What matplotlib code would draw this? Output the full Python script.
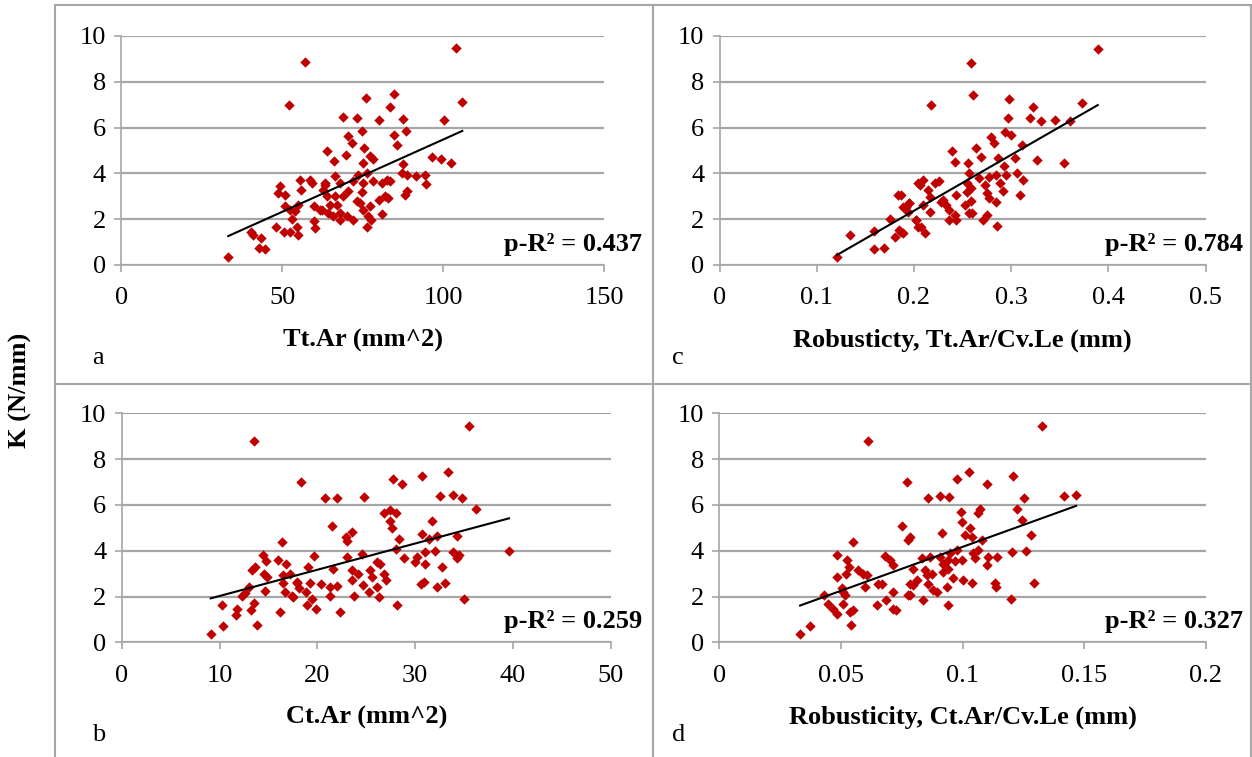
import numpy as np
import matplotlib.pyplot as plt
from matplotlib.lines import Line2D

plt.rcParams['font.family'] = ['Liberation Serif', 'DejaVu Serif']

# panel a: Tt.Ar vs K
a_x = [57.0, 52.1, 63.8, 33.2, 40.2, 41.0, 43.4, 42.7, 44.7, 47.9, 49.3, 48.6, 50.8, 50.5,
       52.4, 54.7, 55.0, 53.1, 50.8, 52.4, 55.5, 58.6, 59.2, 55.7, 55.0, 54.0, 59.7, 61.7,
       59.7, 60.2, 63.2, 63.8, 64.3,
       103.8, 105.9, 100.3, 84.7, 83.6, 75.9, 68.8, 73.1, 79.9, 87.6, 88.5, 74.9, 70.5, 71.5,
       84.7, 85.5, 69.7, 75.3, 66.2, 75.2, 77.3, 78.3, 96.6, 99.2, 102.4, 87.6, 87.1, 88.6,
       91.5, 94.4, 94.7, 88.8, 88.1, 66.4, 67.9, 63.2, 62.7, 73.6, 76.2, 72.0, 75.2, 78.2,
       80.9, 82.4, 83.4, 70.5, 74.7, 79.9, 81.9, 82.9, 66.4, 68.9, 73.1, 74.2, 64.8, 66.9,
       62.2, 67.9, 77.2, 65.9, 67.9, 70.0, 72.0, 76.7, 77.7, 80.9, 76.2, 75.2]
a_k = [8.85, 7.00, 4.97, 0.34, 1.46, 1.32, 1.17, 0.73, 0.70, 1.65, 3.43, 3.14, 3.07, 1.46,
       1.46, 1.65, 1.32, 2.02, 2.56, 2.41, 3.73, 3.73, 3.58, 3.26, 2.63, 2.34, 2.56, 2.41,
       1.90, 1.61, 3.58, 3.00, 2.27,
       9.46, 7.12, 6.33, 7.46, 6.90, 7.28, 6.45, 6.42, 6.35, 6.39, 5.83, 5.83, 5.63, 5.34,
       5.66, 5.26, 4.80, 5.12, 4.52, 4.46, 4.75, 4.61, 4.71, 4.61, 4.46, 4.39, 4.02, 3.95,
       3.87, 3.95, 3.55, 3.22, 3.04, 3.87, 3.58, 3.51, 3.29, 3.95, 4.02, 3.65, 3.58, 3.65,
       3.58, 3.73, 3.65, 3.22, 3.19, 2.85, 3.00, 2.92, 3.00, 3.00, 2.78, 2.71, 2.63, 2.63,
       2.41, 2.27, 2.56, 2.12, 1.97, 2.12, 1.97, 2.12, 1.97, 2.22, 1.68, 2.41]

# panel c: robusticity Tt.Ar/Cv.Le vs K
c_x = [0.121, 0.134, 0.159, 0.159, 0.169, 0.175, 0.184, 0.180, 0.185, 0.189, 0.192, 0.195,
       0.194, 0.204, 0.202, 0.204,
       0.389, 0.259, 0.261, 0.218, 0.298, 0.322, 0.373, 0.297, 0.319, 0.331, 0.345, 0.360,
       0.294, 0.300, 0.279, 0.282, 0.311, 0.264, 0.239, 0.269, 0.242, 0.256, 0.286, 0.304,
       0.327, 0.354, 0.293, 0.257, 0.267, 0.277, 0.284, 0.295, 0.306, 0.312, 0.288, 0.273,
       0.255, 0.226, 0.222, 0.209, 0.206, 0.214, 0.216, 0.255, 0.259, 0.243, 0.275, 0.292,
       0.309, 0.277, 0.284, 0.259, 0.252, 0.228, 0.233, 0.195, 0.189, 0.187, 0.209, 0.216,
       0.236, 0.242, 0.236, 0.243, 0.257, 0.260, 0.275, 0.271, 0.202, 0.207, 0.211, 0.187,
       0.285, 0.230]
c_k = [0.34, 1.31, 1.48, 0.70, 0.73, 2.00, 3.06, 1.24, 1.53, 1.38, 2.55, 2.69,
       2.33, 3.57, 1.97, 1.67,
       9.42, 8.81, 7.42, 6.97, 7.25, 6.88, 7.09, 6.43, 6.41, 6.30, 6.33, 6.30,
       5.81, 5.66, 5.60, 5.31, 5.24, 5.09, 4.98, 4.73, 4.51, 4.44, 4.69, 4.69,
       4.59, 4.47, 4.34, 4.00, 3.79, 3.86, 3.93, 3.93, 4.03, 3.71, 3.57, 3.49,
       3.57, 3.68, 3.57, 3.71, 3.49, 3.28, 2.98, 3.20, 3.35, 3.06, 3.13, 3.23,
       3.06, 2.91, 2.76, 2.81, 2.62, 2.76, 2.62, 2.69, 2.55, 3.06, 2.62, 2.33,
       2.40, 2.18, 1.97, 1.97, 2.26, 2.26, 2.18, 1.97, 1.97, 1.67, 1.41, 1.45,
       1.70, 2.84]

# panel b: Ct.Ar vs K
b_x = [13.5, 18.3, 16.4, 14.4, 14.8, 16.0, 16.8, 13.3, 13.6, 14.6, 14.9, 16.5, 17.2, 16.5,
       17.9, 18.1, 16.7, 17.4, 14.7, 13.0, 12.6, 12.3, 10.3, 11.8, 11.7, 13.5, 13.2, 13.8,
       10.4, 9.1, 16.2,
       35.5, 27.7, 28.7, 30.7, 33.4, 20.8, 22.0, 24.8, 32.5, 33.9, 34.8, 36.2, 26.8, 27.4,
       28.0, 27.4, 27.6, 21.5, 31.7, 22.9, 23.5, 23.0, 28.4, 30.7, 31.4, 32.2, 34.3, 28.0,
       19.7, 23.0, 24.6, 28.9, 30.2, 31.0, 32.0, 33.9, 34.5, 34.3, 39.6, 19.1, 21.6, 26.1,
       26.4, 23.5, 24.2, 25.4, 25.6, 26.8, 27.0, 30.0, 31.0, 32.8, 30.6, 30.9, 32.2, 33.1,
       35.0, 17.9, 19.3, 20.4, 21.3, 22.0, 23.5, 24.7, 25.3, 26.1, 26.3, 23.8, 21.3, 18.8,
       19.5, 17.5, 18.9, 19.9, 22.3, 28.1]
b_k = [8.80, 6.98, 4.36, 3.80, 3.55, 3.58, 3.41, 3.15, 3.29, 3.00, 2.83, 2.96, 2.97, 2.59,
       2.64, 2.35, 2.20, 2.01, 2.25, 2.42, 2.16, 2.01, 1.65, 1.47, 1.18, 1.72, 1.40, 0.77,
       0.70, 0.35, 1.33,
       9.44, 7.11, 6.90, 7.27, 7.45, 6.28, 6.32, 6.35, 6.39, 6.42, 6.31, 5.82, 5.63, 5.77,
       5.65, 5.29, 4.97, 5.09, 5.31, 4.58, 4.80, 4.43, 4.50, 4.75, 4.53, 4.65, 4.65, 4.07,
       3.78, 3.74, 3.84, 3.66, 3.74, 3.95, 3.99, 3.95, 3.80, 3.66, 3.98, 3.29, 3.22, 3.51,
       3.41, 3.15, 3.00, 3.15, 2.86, 3.00, 2.71, 3.50, 3.42, 3.28, 2.55, 2.62, 2.42, 2.57,
       1.87, 2.57, 2.59, 2.54, 2.42, 2.45, 2.71, 2.49, 2.20, 2.42, 1.99, 2.01, 2.01, 2.20,
       1.91, 1.99, 1.62, 1.44, 1.33, 1.65]

# panel d: robusticity Ct.Ar/Cv.Le vs K
d_x = [0.0612, 0.0770, 0.0752, 0.0777, 0.0548, 0.0482, 0.0526, 0.0533, 0.0520, 0.0485,
       0.0681, 0.0701, 0.0715, 0.0571, 0.0592, 0.0606, 0.0653, 0.0667, 0.0783, 0.0599,
       0.0503, 0.0510, 0.0516, 0.0431, 0.0448, 0.0468, 0.0482, 0.0507, 0.0537, 0.0551,
       0.0540, 0.0647, 0.0685, 0.0715, 0.0725, 0.0715, 0.0373, 0.0332, 0.0777,
       0.1327, 0.1027, 0.0975, 0.1101, 0.1208, 0.0859, 0.0907, 0.0945, 0.1253, 0.1416,
       0.1466, 0.1071, 0.1062, 0.0993, 0.1222, 0.0996, 0.1245, 0.0783, 0.0914, 0.1030,
       0.1009, 0.1037, 0.1078, 0.1279, 0.0832, 0.0866, 0.0907, 0.0948, 0.0975, 0.0941,
       0.0968, 0.0996, 0.1044, 0.1064, 0.1051, 0.1105, 0.1142, 0.1101, 0.1201, 0.1259,
       0.0797, 0.0845, 0.0873, 0.0852, 0.0920, 0.0941, 0.0811, 0.0797, 0.0859, 0.0961,
       0.1002, 0.1037, 0.1133, 0.1136, 0.1294, 0.0879, 0.0893, 0.0934, 0.0783, 0.0838,
       0.0941, 0.1197, 0.0920]
d_k = [8.80, 6.98, 5.09, 4.46, 4.36, 3.83, 3.61, 3.29, 3.00, 2.85,
       3.78, 3.61, 3.39, 3.17, 3.00, 2.93, 2.56, 2.54, 2.56, 2.42,
       2.35, 2.20, 2.05, 2.05, 1.69, 1.47, 1.22, 1.69, 1.33, 1.43,
       0.77, 1.62, 1.85, 2.20, 1.40, 1.47, 0.70, 0.35, 2.05,
       9.44, 7.45, 7.11, 6.90, 7.27, 6.31, 6.38, 6.35, 6.31, 6.39,
       6.45, 5.81, 5.63, 5.70, 5.81, 5.26, 5.33, 4.58, 4.79, 4.97,
       4.68, 4.61, 4.46, 4.68, 3.66, 3.73, 3.73, 3.88, 4.05, 3.61,
       3.53, 3.61, 3.88, 4.03, 3.66, 3.73, 3.73, 3.37, 3.95, 3.98,
       3.22, 3.15, 3.00, 2.93, 3.07, 3.22, 2.71, 2.49, 2.54, 2.79,
       2.71, 2.61, 2.59, 2.42, 2.59, 2.27, 2.20, 2.42, 2.05, 1.85,
       1.65, 1.87, 3.44]

panels = [
    # x, y, xticks, xlabel, r2 text, letter, axes box in pixels (left, right, top, bottom)
    (a_x, a_k, [0, 50, 100, 150], 'Tt.Ar (mm^2)', 'p-R\u00b2 = 0.437', 'a', (121.3, 604.3, 36, 265)),
    (c_x, c_k, [0, 0.1, 0.2, 0.3, 0.4, 0.5], 'Robusticty, Tt.Ar/Cv.Le (mm)', 'p-R\u00b2 = 0.784', 'c', (719.5, 1205.7, 36, 265)),
    (b_x, b_k, [0, 10, 20, 30, 40, 50], 'Ct.Ar (mm^2)', 'p-R\u00b2 = 0.259', 'b', (121.7, 610.7, 413.3, 642.3)),
    (d_x, d_k, [0, 0.05, 0.1, 0.15, 0.2], 'Robusticity, Ct.Ar/Cv.Le (mm)', 'p-R\u00b2 = 0.327', 'd', (719.3, 1206, 413.3, 642.3)),
]
tick_labels = {
    'a': ['0', '50', '100', '150'],
    'c': ['0', '0.1', '0.2', '0.3', '0.4', '0.5'],
    'b': ['0', '10', '20', '30', '40', '50'],
    'd': ['0', '0.05', '0.1', '0.15', '0.2'],
}
y_ticks = [0, 2, 4, 6, 8, 10]

W, H = 1252, 757
fig = plt.figure(figsize=(W / 100, H / 100), dpi=100)
grey = '#a6a6a6'
fs = 19

for xs, ys, xt, xlab, r2, letter, (l, r, t, b) in panels:
    ax = fig.add_axes([l / W, 1 - b / H, (r - l) / W, (b - t) / H])
    ax.scatter(xs, ys, marker='D', s=28, color='#c00000', linewidths=0, zorder=3)
    p = np.polyfit(xs, ys, 1)
    lx = np.array([min(xs), max(xs)])
    ax.plot(lx, np.polyval(p, lx), color='black', lw=1.5, zorder=4)
    ax.set_xlim(xt[0], xt[-1])
    ax.set_ylim(0, 10)
    ax.set_xticks(xt)
    ax.set_xticklabels(tick_labels[letter])
    ax.set_yticks(y_ticks)
    ax.yaxis.grid(True, color=grey, lw=1.6)
    ax.set_axisbelow(True)
    for s in ['top', 'right']:
        ax.spines[s].set_visible(False)
    for s in ['left', 'bottom']:
        ax.spines[s].set_color(grey)
        ax.spines[s].set_linewidth(1.2)
    ax.tick_params(axis='both', colors=grey, labelcolor='black', labelsize=fs,
                   length=5, width=1.2, direction='out')
    ax.tick_params(axis='x', pad=11)
    ax.tick_params(axis='y', pad=6)
    ax.set_xlabel(xlab, fontsize=fs, fontweight='bold', labelpad=14)
    right_edge = (642 if r < 650 else 1243) / W
    fig.text(right_edge, 1 - (b - 21) / H, r2, ha='right', va='center',
             fontsize=fs, fontweight='bold')
    letter_x = (92 if r < 650 else 672) / W
    fig.text(letter_x, 1 - (b + 93) / H, letter, ha='left', va='center', fontsize=fs)

fig.text(20 / W, 1 - 390 / H, 'K (N/mm)', rotation=90, ha='center', va='center',
         fontsize=fs, fontweight='bold')

# panel frame lines
frame = [((55, 1251), (5, 5)), ((55, 1251), (384, 384)), ((55, 55), (5, 757)),
         ((653, 653), (5, 757)), ((1251, 1251), (5, 757))]
for fx, fy in frame:
    fig.add_artist(Line2D([v / W for v in fx], [1 - v / H for v in fy],
                          color=grey, lw=1.5))

fig.savefig('out.png', dpi=100)
